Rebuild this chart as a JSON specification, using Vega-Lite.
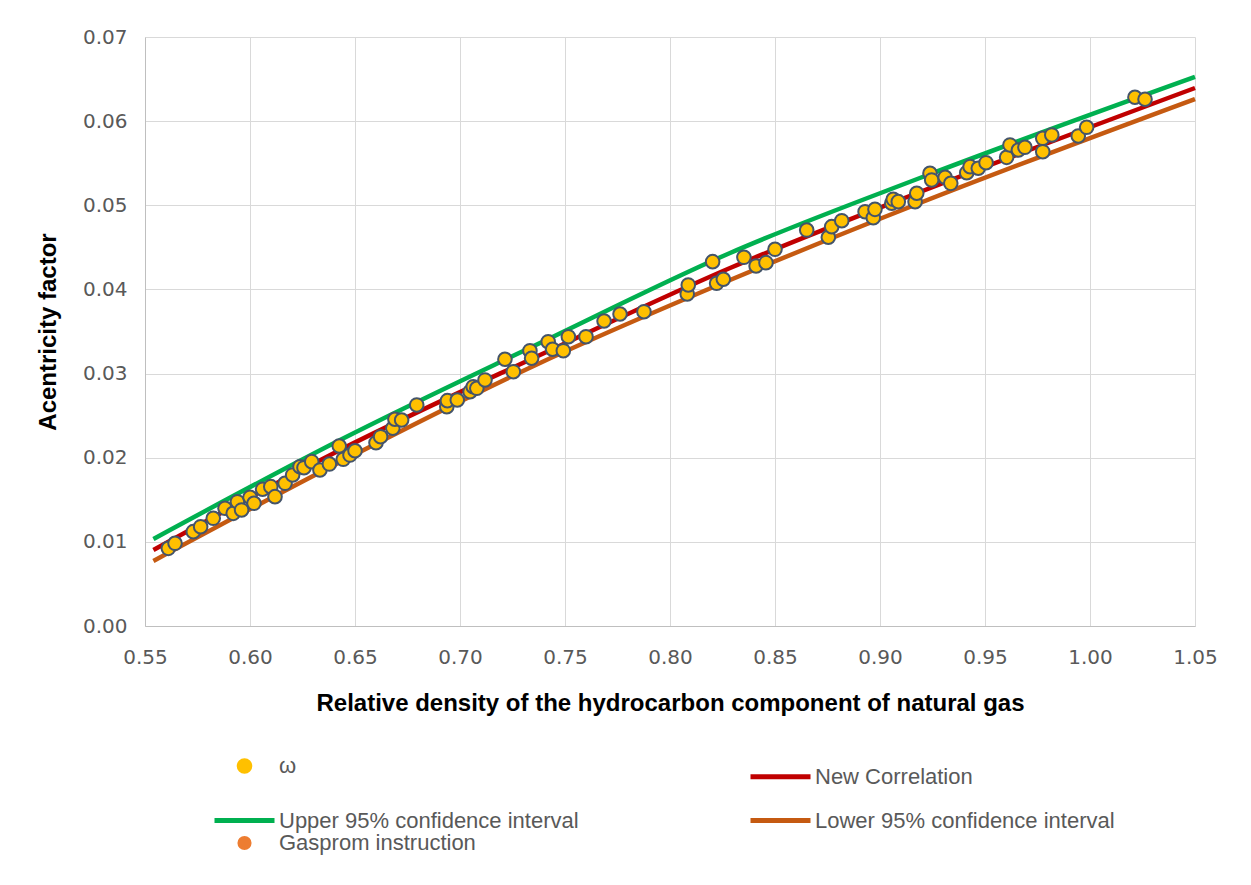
{
  "$schema": "https://vega.github.io/schema/vega-lite/v6.json",
  "width": 1050,
  "height": 589,
  "autosize": {"type": "none"},
  "padding": {"left": 145, "top": 37, "right": 56, "bottom": 259},
  "background": "white",
  "config": {
    "view": {"stroke": null},
    "axis": {
      "gridColor": "#D9D9D9",
      "gridWidth": 1,
      "domainColor": "#BFBFBF",
      "ticks": false,
      "tickSize": 0,
      "labelFont": "DejaVu Sans",
      "labelFontSize": 20,
      "labelColor": "#595959",
      "titleFont": "Liberation Sans",
      "titleFontSize": 24,
      "titleFontWeight": "bold",
      "titleColor": "#000000"
    }
  },
  "datasets": {
    "omega": [
      {"series": "ω", "x": 0.5611, "y": 0.00923}, {"series": "ω", "x": 0.5643, "y": 0.00983}, {"series": "ω", "x": 0.5730, "y": 0.01121}, {"series": "ω", "x": 0.5765, "y": 0.01180},
      {"series": "ω", "x": 0.5825, "y": 0.01280}, {"series": "ω", "x": 0.5881, "y": 0.01399}, {"series": "ω", "x": 0.5920, "y": 0.01339}, {"series": "ω", "x": 0.5940, "y": 0.01477},
      {"series": "ω", "x": 0.5960, "y": 0.01379}, {"series": "ω", "x": 0.6000, "y": 0.01530}, {"series": "ω", "x": 0.6019, "y": 0.01458}, {"series": "ω", "x": 0.6060, "y": 0.01625},
      {"series": "ω", "x": 0.6099, "y": 0.01656}, {"series": "ω", "x": 0.6119, "y": 0.01537}, {"series": "ω", "x": 0.6167, "y": 0.01696}, {"series": "ω", "x": 0.6203, "y": 0.01795},
      {"series": "ω", "x": 0.6238, "y": 0.01893}, {"series": "ω", "x": 0.6257, "y": 0.01881}, {"series": "ω", "x": 0.6294, "y": 0.01953}, {"series": "ω", "x": 0.6333, "y": 0.01854},
      {"series": "ω", "x": 0.6378, "y": 0.01925}, {"series": "ω", "x": 0.6425, "y": 0.02139}, {"series": "ω", "x": 0.6444, "y": 0.01981}, {"series": "ω", "x": 0.6476, "y": 0.02032},
      {"series": "ω", "x": 0.6500, "y": 0.02083}, {"series": "ω", "x": 0.6600, "y": 0.02178}, {"series": "ω", "x": 0.6622, "y": 0.02250}, {"series": "ω", "x": 0.6680, "y": 0.02350},
      {"series": "ω", "x": 0.6690, "y": 0.02457}, {"series": "ω", "x": 0.6722, "y": 0.02448}, {"series": "ω", "x": 0.6794, "y": 0.02627}, {"series": "ω", "x": 0.6937, "y": 0.02606},
      {"series": "ω", "x": 0.6940, "y": 0.02678}, {"series": "ω", "x": 0.6987, "y": 0.02686}, {"series": "ω", "x": 0.7048, "y": 0.02785}, {"series": "ω", "x": 0.7063, "y": 0.02844},
      {"series": "ω", "x": 0.7080, "y": 0.02825}, {"series": "ω", "x": 0.7119, "y": 0.02924}, {"series": "ω", "x": 0.7214, "y": 0.03170}, {"series": "ω", "x": 0.7254, "y": 0.03022},
      {"series": "ω", "x": 0.7333, "y": 0.03272}, {"series": "ω", "x": 0.7341, "y": 0.03182}, {"series": "ω", "x": 0.7420, "y": 0.03379}, {"series": "ω", "x": 0.7441, "y": 0.03289},
      {"series": "ω", "x": 0.7492, "y": 0.03272}, {"series": "ω", "x": 0.7516, "y": 0.03438}, {"series": "ω", "x": 0.7600, "y": 0.03438}, {"series": "ω", "x": 0.7686, "y": 0.03625},
      {"series": "ω", "x": 0.7762, "y": 0.03708}, {"series": "ω", "x": 0.7876, "y": 0.03735}, {"series": "ω", "x": 0.8082, "y": 0.03946}, {"series": "ω", "x": 0.8087, "y": 0.04053},
      {"series": "ω", "x": 0.8203, "y": 0.04330}, {"series": "ω", "x": 0.8222, "y": 0.04073}, {"series": "ω", "x": 0.8254, "y": 0.04121}, {"series": "ω", "x": 0.8352, "y": 0.04382},
      {"series": "ω", "x": 0.8410, "y": 0.04279}, {"series": "ω", "x": 0.8457, "y": 0.04318}, {"series": "ω", "x": 0.8500, "y": 0.04477}, {"series": "ω", "x": 0.8651, "y": 0.04706},
      {"series": "ω", "x": 0.8754, "y": 0.04620}, {"series": "ω", "x": 0.8770, "y": 0.04746}, {"series": "ω", "x": 0.8818, "y": 0.04817}, {"series": "ω", "x": 0.8929, "y": 0.04924},
      {"series": "ω", "x": 0.8968, "y": 0.04853}, {"series": "ω", "x": 0.8976, "y": 0.04952}, {"series": "ω", "x": 0.9056, "y": 0.05024}, {"series": "ω", "x": 0.9063, "y": 0.05071},
      {"series": "ω", "x": 0.9087, "y": 0.05043}, {"series": "ω", "x": 0.9167, "y": 0.05043}, {"series": "ω", "x": 0.9175, "y": 0.05143}, {"series": "ω", "x": 0.9238, "y": 0.05380},
      {"series": "ω", "x": 0.9246, "y": 0.05301}, {"series": "ω", "x": 0.9310, "y": 0.05333}, {"series": "ω", "x": 0.9337, "y": 0.05261}, {"series": "ω", "x": 0.9413, "y": 0.05387},
      {"series": "ω", "x": 0.9429, "y": 0.05459}, {"series": "ω", "x": 0.9468, "y": 0.05440}, {"series": "ω", "x": 0.9505, "y": 0.05506}, {"series": "ω", "x": 0.9603, "y": 0.05570},
      {"series": "ω", "x": 0.9619, "y": 0.05717}, {"series": "ω", "x": 0.9659, "y": 0.05657}, {"series": "ω", "x": 0.9690, "y": 0.05689}, {"series": "ω", "x": 0.9775, "y": 0.05796},
      {"series": "ω", "x": 0.9775, "y": 0.05637}, {"series": "ω", "x": 0.9818, "y": 0.05836}, {"series": "ω", "x": 0.9944, "y": 0.05824}, {"series": "ω", "x": 0.9984, "y": 0.05927},
      {"series": "ω", "x": 1.0214, "y": 0.06284}, {"series": "ω", "x": 1.0262, "y": 0.06260}
    ],
    "curves": [
      {"series": "Upper 95%  confidence interval", "x": 0.554, "y": 0.01034},
      {"series": "Upper 95%  confidence interval", "x": 0.6429, "y": 0.02211},
      {"series": "Upper 95%  confidence interval", "x": 0.7381, "y": 0.03363},
      {"series": "Upper 95%  confidence interval", "x": 0.8286, "y": 0.04433},
      {"series": "Upper 95%  confidence interval", "x": 0.919, "y": 0.05324},
      {"series": "Upper 95%  confidence interval", "x": 1.05, "y": 0.06525},
      {"series": "New Correlation", "x": 0.554, "y": 0.00903},
      {"series": "New Correlation", "x": 0.6429, "y": 0.02092},
      {"series": "New Correlation", "x": 0.7381, "y": 0.03221},
      {"series": "New Correlation", "x": 0.8286, "y": 0.04255},
      {"series": "New Correlation", "x": 0.919, "y": 0.05158},
      {"series": "New Correlation", "x": 1.05, "y": 0.06394},
      {"series": "Lower 95%  confidence interval", "x": 0.554, "y": 0.00773},
      {"series": "Lower 95%  confidence interval", "x": 0.6429, "y": 0.01949},
      {"series": "Lower 95%  confidence interval", "x": 0.7381, "y": 0.03126},
      {"series": "Lower 95%  confidence interval", "x": 0.8286, "y": 0.04112},
      {"series": "Lower 95%  confidence interval", "x": 0.919, "y": 0.05027},
      {"series": "Lower 95%  confidence interval", "x": 1.05, "y": 0.06263}
    ]
  },
  "layer": [
    {
      "data": {"name": "curves"},
      "mark": {"type": "line", "strokeWidth": 4.5, "interpolate": "monotone"},
      "encoding": {
        "x": {
          "field": "x", "type": "quantitative",
          "scale": {"domain": [0.55, 1.05], "nice": false, "zero": false},
          "axis": {
            "title": "Relative density of the hydrocarbon component of natural gas",
            "values": [0.55, 0.6, 0.65, 0.7, 0.75, 0.8, 0.85, 0.9, 0.95, 1.0, 1.05],
            "format": ".2f", "labelPadding": 21, "titlePadding": 24, "labelFlush": false
          }
        },
        "y": {
          "field": "y", "type": "quantitative",
          "scale": {"domain": [0, 0.07], "nice": false},
          "axis": {
            "title": "Acentricity factor",
            "values": [0, 0.01, 0.02, 0.03, 0.04, 0.05, 0.06, 0.07],
            "format": ".2f", "labelPadding": 18, "titlePadding": 22, "labelFlush": false
          }
        },
        "color": {
          "field": "series", "type": "nominal",
          "scale": {
            "domain": ["ω", "New Correlation", "Upper 95%  confidence interval", "Lower 95%  confidence interval", "Gasprom instruction"],
            "range": ["#FFC000", "#C00000", "#00B050", "#C55A11", "#ED7D31"]
          },
          "legend": {
            "title": null,
            "orient": "none",
            "legendX": 67,
            "legendY": 707,
            "direction": "horizontal",
            "columns": 2,
            "columnPadding": 155,
            "rowPadding": -38,
            "labelFont": "Liberation Sans",
            "labelFontSize": 22,
            "labelColor": "#595959",
            "labelOffset": 2,
            "labelLimit": 600,
            "symbolSize": 3600,
            "symbolStrokeWidth": 5,
            "encode": {
              "symbols": {
                "update": {
                  "shape": {"scale": "shape", "field": "value"},
                  "size": {"scale": "size", "field": "value"},
                  "strokeWidth": {"scale": "strokeWidth", "field": "value"},
                  "fill": {"scale": "color", "field": "value"}
                }
              }
            }
          }
        }
      }
    },
    {
      "data": {"name": "omega"},
      "mark": {"type": "point", "filled": true, "fill": "#FFC000", "stroke": "#44546A", "opacity": 1},
      "encoding": {
        "x": {"field": "x", "type": "quantitative"},
        "y": {"field": "y", "type": "quantitative"},
        "shape": {
          "field": "series", "type": "nominal",
          "scale": {
            "domain": ["ω", "New Correlation", "Upper 95%  confidence interval", "Lower 95%  confidence interval", "Gasprom instruction"],
            "range": ["circle", "stroke", "stroke", "stroke", "circle"]
          },
          "legend": null
        },
        "size": {
          "field": "series", "type": "ordinal",
          "scale": {
            "type": "ordinal",
            "domain": ["ω", "New Correlation", "Upper 95%  confidence interval", "Lower 95%  confidence interval", "Gasprom instruction"],
            "range": [185, 3600, 3600, 3600, 200]
          },
          "legend": null
        },
        "strokeWidth": {
          "field": "series", "type": "ordinal",
          "scale": {
            "type": "ordinal",
            "domain": ["ω", "New Correlation", "Upper 95%  confidence interval", "Lower 95%  confidence interval", "Gasprom instruction"],
            "range": [2, 5, 5, 5, 0]
          },
          "legend": null
        }
      }
    }
  ]
}
